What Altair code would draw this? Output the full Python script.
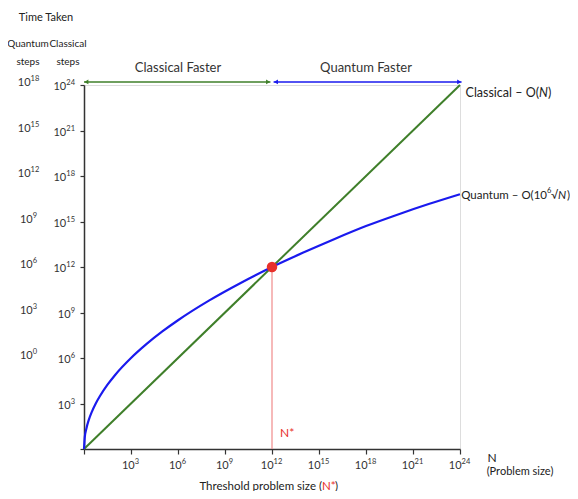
import altair as alt
import pandas as pd

# Data (positions in units of log10 steps)
classical_x = [0, 24]
classical_y = [0, 24]
quantum_x = [0, 0.05, 0.15, 0.3, 0.5, 0.75, 1, 1.5, 2, 3, 4, 5, 6, 8, 10, 12, 14, 16, 18, 20, 22, 24]
quantum_y = [0, 0.78, 1.34, 1.9, 2.45, 3.0, 3.46, 4.24, 4.9, 6.0, 6.93, 7.75, 8.49, 9.8, 10.95, 12.0, 12.95, 13.85, 14.7, 15.45, 16.15, 16.8]
x_ticks = [0, 3, 6, 9, 12, 15, 18, 21, 24]
x_label_pos = [3, 6, 9, 12, 15, 18, 21, 24]
x_label_exp = ["3", "6", "9", "12", "15", "18", "21", "24"]
y_ticks = [0, 3, 6, 9, 12, 15, 18, 21, 24]
classical_label_pos = [3, 6, 9, 12, 15, 18, 21, 24]
classical_label_exp = ["3", "6", "9", "12", "15", "18", "21", "24"]
quantum_label_pos = [6, 9, 12, 15, 18, 21, 24]
quantum_label_exp = ["0", "3", "6", "9", "12", "15", "18"]
threshold = 12

FONT = "Lato"
GREEN = "#3f7f2a"
BLUE = "#1a1aee"
RED = "#e8302a"
GREY = "#333333"
TXT = "#222222"

W, H = 376, 364

xs = alt.Scale(domain=[0, 24], nice=False, zero=False)
ys = alt.Scale(domain=[0, 24], nice=False, zero=False)

xaxis = alt.Axis(values=x_ticks, labels=False, title=None, grid=False,
                 domainColor=GREY, domainWidth=1.5, tickColor=GREY, tickWidth=1.2, tickSize=5)
yaxis = alt.Axis(values=y_ticks, labels=False, title=None, grid=False,
                 domainColor=GREY, domainWidth=1.5, tickColor=GREY, tickWidth=1.2, tickSize=4)

cl_df = pd.DataFrame({"x": classical_x, "y": classical_y})
q_df = pd.DataFrame({"x": quantum_x, "y": quantum_y})

classical = alt.Chart(cl_df).mark_line(color=GREEN, strokeWidth=2).encode(
    x=alt.X("x:Q", scale=xs, axis=xaxis), y=alt.Y("y:Q", scale=ys, axis=yaxis))
quantum = alt.Chart(q_df).mark_line(color=BLUE, strokeWidth=2.2, interpolate="monotone").encode(
    x=alt.X("x:Q", scale=xs), y=alt.Y("y:Q", scale=ys))

th_df = pd.DataFrame({"x": [threshold], "y": [threshold], "y0": [0]})
vline = alt.Chart(th_df).mark_rule(color="#f08a8a", strokeWidth=1.2).encode(
    x=alt.X("x:Q", scale=xs), y=alt.Y("y:Q", scale=ys), y2="y0:Q")
dot = alt.Chart(th_df).mark_circle(color=RED, size=110, opacity=1).encode(
    x=alt.X("x:Q", scale=xs), y=alt.Y("y:Q", scale=ys))
nstar = alt.Chart(th_df).mark_text(text="N*", color=RED, font=FONT, fontSize=12, align="left", dx=8, dy=-16).encode(
    x=alt.X("x:Q", scale=xs), y=alt.Y("y0:Q", scale=ys))

BASE_FS = 11
EXP_FS = 7.5

def power_labels(pos, exps, axis, fixed, anchor_mode, dy=0):
    """'10' + raised exponent labels."""
    layers = []
    for ndig in (1, 2):
        sub = [(p, e) for p, e in zip(pos, exps) if len(e) == ndig]
        if not sub:
            continue
        df = pd.DataFrame({"p": [s[0] for s in sub], "e": [s[1] for s in sub], "b": ["10"] * len(sub)})
        if anchor_mode == "center":
            base_dx = 3.7 if ndig == 1 else 1.6
            exp_dx = base_dx
            exp_align = "left"
        else:
            exp_dx = 0
            base_dx = -4.4 if ndig == 1 else -8.8
            exp_align = "right"
        if axis == "x":
            enc = dict(x=alt.X("p:Q", scale=xs), y=alt.value(fixed))
        else:
            enc = dict(y=alt.Y("p:Q", scale=ys), x=alt.value(fixed))
        layers.append(alt.Chart(df).mark_text(font=FONT, fontSize=BASE_FS, color=GREY, align="right",
                                              dx=base_dx, dy=dy).encode(text="b:N", **enc))
        layers.append(alt.Chart(df).mark_text(font=FONT, fontSize=EXP_FS, color=GREY, align=exp_align,
                                              dx=exp_dx, dy=dy - 4).encode(text="e:N", **enc))
    return layers

xlabels = power_labels(x_label_pos, x_label_exp, "x", 381, "center")
clabels = power_labels(classical_label_pos, classical_label_exp, "y", -9, "right", dy=2)
qlabels = power_labels(quantum_label_pos, quantum_label_exp, "y", -55, "center", dy=-2)

# top arrows
arr_df = pd.DataFrame({"x1": [0.0, 12.1], "x2": [11.9, 24.1], "y": [24.2, 24.2], "c": ["g", "b"]})
cscale = alt.Scale(domain=["g", "b"], range=[GREEN, BLUE])
arrows = alt.Chart(arr_df).mark_rule(strokeWidth=1.5).encode(
    x=alt.X("x1:Q", scale=xs), x2="x2:Q", y=alt.Y("y:Q", scale=ys),
    color=alt.Color("c:N", scale=cscale, legend=None))
heads_df = pd.DataFrame({"x": [0.15, 11.75, 12.25, 23.95], "y": [24.2] * 4,
                         "s": ["triangle-left", "triangle-right", "triangle-left", "triangle-right"],
                         "c": ["g", "g", "b", "b"]})
heads = alt.Chart(heads_df).mark_point(filled=True, size=22, opacity=1).encode(
    x=alt.X("x:Q", scale=xs), y=alt.Y("y:Q", scale=ys),
    shape=alt.Shape("s:N", scale=None, legend=None),
    color=alt.Color("c:N", scale=cscale, legend=None))
top_df = pd.DataFrame({"x": [6, 18], "y": [24, 24], "t": ["Classical Faster", "Quantum Faster"]})
toptext = alt.Chart(top_df).mark_text(font=FONT, fontSize=13, color=GREY, dy=-17).encode(
    x=alt.X("x:Q", scale=xs), y=alt.Y("y:Q", scale=ys), text="t:N")

def label(txt, x, y, color=TXT, size=11, align="center", dy=0, style="normal"):
    return alt.Chart(pd.DataFrame({"t": [txt]})).mark_text(
        font=FONT, fontSize=size, color=color, align=align, dy=dy, fontStyle=style).encode(
        x=alt.value(x), y=alt.value(y), text="t:N")

CY = H * (1 - 23.45 / 24)
QY = H * (1 - 16.7 / 24)
series_lbl = [
    label("Classical – O(", 455, CY, size=12.5, align="right"),
    label("N", 455, CY, size=12.5, align="left", style="italic"),
    label(")", 464, CY, size=12.5, align="left"),
    label("Quantum – O(10", 463, QY, size=11.5, align="right"),
    label("6", 463, QY, size=7.5, align="left", dy=-5),
    label("√", 467, QY, size=11.5, align="left"),
    label("N", 474, QY, size=11.5, align="left", style="italic"),
    label(")", 483, QY, size=11.5, align="left"),
]

notes = [
    label("Time Taken", -38, -67),
    label("Quantum", -56, -41, size=10),
    label("steps", -56, -23, size=10),
    label("Classical", -16, -41, size=10),
    label("steps", -16, -23, size=10),
    label("N", 408, 373, size=12),
    label("(Problem size)", 436, 387),
    label("Threshold problem size (", 238, 402, size=11.5, align="right"),
    label("N*", 238, 402, color=RED, size=11.5, align="left"),
    label(")", 251, 402, size=11.5, align="left"),
]

chart = alt.layer(classical, quantum, vline, dot, nstar, *xlabels, *clabels, *qlabels,
                  arrows, heads, toptext, *series_lbl, *notes).properties(
    width=W, height=H,
    autosize=alt.AutoSizeParams(type="none"),
    padding={"left": 76, "top": 77, "right": 110, "bottom": 42},
).configure_view(stroke=None).configure(background="white")

chart.save("out.html", embed_options={"renderer": "svg", "actions": False})
